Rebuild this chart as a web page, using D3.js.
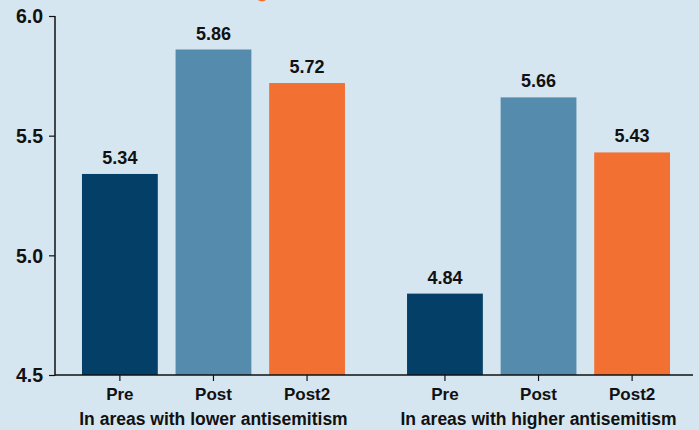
<!DOCTYPE html>
<html>
<head>
<meta charset="utf-8">
<script src="https://cdn.jsdelivr.net/npm/d3@7"></script>
<style>
  html, body { margin: 0; padding: 0; background: #d6e6f0; }
  svg { display: block; }
  .ytick text { font-family: "Liberation Sans", Arial, sans-serif; font-weight: bold; font-size: 19.5px; fill: #111; }
  .xlab { font-family: "Liberation Sans", Arial, sans-serif; font-weight: bold; font-size: 17px; fill: #111; }
  .glab { font-family: "Liberation Sans", Arial, sans-serif; font-weight: bold; font-size: 17.5px; fill: #111; }
  .val { font-family: "Liberation Sans", Arial, sans-serif; font-weight: bold; font-size: 18px; fill: #111; }
</style>
</head>
<body>
<svg id="chart" width="699" height="430"></svg>
<script>
// Mean scores before and after, split by local level of antisemitism
const groups = ["In areas with lower antisemitism", "In areas with higher antisemitism"];
const periods = ["Pre", "Post", "Post2"];
const lowerValues = [5.34, 5.86, 5.72];
const higherValues = [4.84, 5.66, 5.43];
const yTicks = [4.5, 5.0, 5.5, 6.0];
const colors = ["#033f66", "#558bad", "#f37033"];

const svg = d3.select("#chart");
const W = 699, H = 430;

svg.append("rect").attr("width", W).attr("height", H).attr("fill", "#d6e6f0");

// small orange mark at the very top edge
svg.append("circle").attr("cx", 262).attr("cy", -5).attr("r", 6.5).attr("fill", "#f37033");

const y = d3.scaleLinear().domain([4.5, 6.0]).range([375, 16]);

const outer = d3.scaleBand().domain(groups).range([55, 697]).paddingInner(0.191).paddingOuter(0.083);
const inner = d3.scaleBand().domain(periods).range([0, outer.bandwidth()]).paddingInner(0.19).paddingOuter(0);

const data = [lowerValues, higherValues].map((vals, gi) =>
  vals.map((v, pi) => ({ group: groups[gi], period: periods[pi], value: v, ci: pi })));

const g = svg.append("g");
data.forEach(rows => {
  const gg = g.append("g").attr("transform", `translate(${outer(rows[0].group)},0)`);
  const cx = d => inner(d.period) + inner.bandwidth() / 2;
  gg.selectAll("rect").data(rows).join("rect")
    .attr("x", d => inner(d.period))
    .attr("y", d => y(d.value))
    .attr("width", inner.bandwidth())
    .attr("height", d => y(4.5) - y(d.value))
    .attr("fill", d => colors[d.ci]);
  gg.selectAll("text.val").data(rows).join("text")
    .attr("class", "val")
    .attr("x", cx)
    .attr("y", d => y(d.value) - 10)
    .attr("text-anchor", "middle")
    .text(d => d.value.toFixed(2));
  // x ticks and period labels
  gg.selectAll("line.xt").data(rows).join("line")
    .attr("x1", cx).attr("x2", cx)
    .attr("y1", 375).attr("y2", 381)
    .attr("stroke", "#111").attr("stroke-width", 1.2);
  gg.selectAll("text.xlab").data(rows).join("text")
    .attr("class", "xlab")
    .attr("x", cx)
    .attr("y", 400)
    .attr("text-anchor", "middle")
    .text(d => d.period);
  gg.append("text").attr("class", "glab")
    .attr("x", outer.bandwidth() / 2)
    .attr("y", 425)
    .attr("text-anchor", "middle")
    .text(rows[0].group);
});

// y axis
const yAxis = d3.axisLeft(y).tickValues(yTicks).tickFormat(d3.format(".1f")).tickSize(6).tickPadding(6);
const ya = svg.append("g").attr("class", "ytick").attr("transform", "translate(55,0)").call(yAxis);
ya.select(".domain").remove();
ya.selectAll("line").attr("stroke", "#111").attr("stroke-width", 1.2);
ya.selectAll("text").attr("dy", "0.35em");

svg.append("line").attr("x1", 55).attr("x2", 55).attr("y1", 16).attr("y2", 375.5)
  .attr("stroke", "#111").attr("stroke-width", 1.5);
svg.append("line").attr("x1", 55).attr("x2", 693).attr("y1", 375).attr("y2", 375)
  .attr("stroke", "#111").attr("stroke-width", 1.5);
</script>
</body>
</html>
